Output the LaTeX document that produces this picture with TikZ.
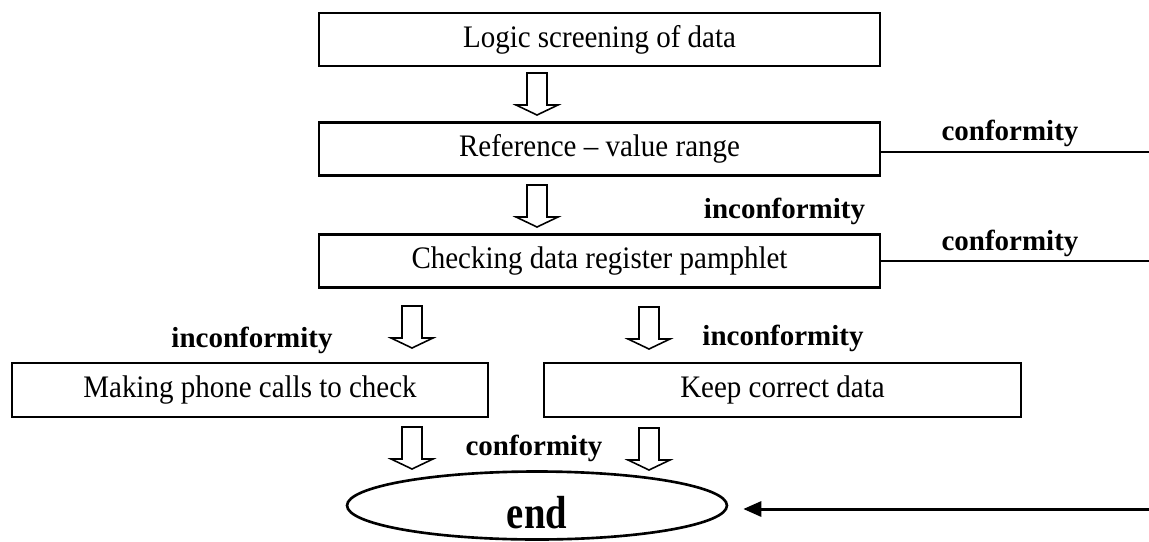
\documentclass[tikz,border=0pt]{standalone}
\usepackage{fontspec}
\setmainfont{Liberation Serif}
\usetikzlibrary{arrows.meta,shapes.geometric}
\begin{document}
\begin{tikzpicture}[x=.02cm,y=-.02cm,
 stepbox/.style={draw,line width=1.6pt,minimum height=1.06cm,inner sep=0pt,font=\fontsize{16.5}{20}\selectfont},
 lab/.style={anchor=base,inner sep=0pt,font=\fontsize{16.5}{20}\selectfont\bfseries},
 hollow/.style={draw,line width=.9pt,line join=miter},
 conn/.style={line width=1.7pt}]
 \useasboundingbox (0,0) rectangle (1149,541);
 \node[stepbox,minimum width=11.22cm] (b1) at (599.5,39.5) {\scalebox{1}[1.08]{Logic screening of data}};
 \node[stepbox,minimum width=11.22cm] (b2) at (599.5,149) {\scalebox{1}[1.08]{Reference – value range}};
 \node[stepbox,minimum width=11.22cm] (b3) at (599.5,261) {\scalebox{1}[1.08]{Checking data register pamphlet}};
 \node[stepbox,minimum width=9.52cm,minimum height=1.08cm] (b4) at (250,390) {\scalebox{1}[1.08]{Making phone calls to check}};
 \node[stepbox,minimum width=9.54cm,minimum height=1.08cm] (b5) at (782.5,390) {\scalebox{1}[1.08]{Keep correct data}};
 \node[ellipse,draw,line width=1.5pt,minimum width=7.6cm,minimum height=1.36cm,inner sep=0pt,text height=.9cm,text depth=0pt,font=\fontsize{22}{26}\selectfont\bfseries] (stop) at (537,505.5) {\scalebox{1}[1.2]{end}};
 \foreach \x/\y in {537/73,537/185,412/306,649/307,412/427,649/428}
  \draw[hollow] (\x-10,\y)--(\x+10,\y)--(\x+10,\y+32)--(\x+21,\y+32)--(\x,\y+42)--(\x-21,\y+32)--(\x-10,\y+32)--cycle;
 \coordinate (r2) at (1149,152); \coordinate (r3) at (1149,261); \coordinate (r5) at (1149,509);
 \draw[conn] (b2.east |- r2)--(r2);
 \draw[conn] (b3.east |- r3)--(r3);
 \draw[conn,-{Triangle[length=.36cm,width=.3cm]},shorten >=.3cm] (r5)--(stop.east |- r5);
 \node[lab] (c1) at (1010,140) {conformity};
 \node[lab] (c2) at (1010,250) {conformity};
 \node[lab] (i1) at (784.5,218) {inconformity};
 \node[lab] (i2) at (252,347) {inconformity};
 \node[lab] (i3) at (783,345) {inconformity};
 \node[lab] (c3) at (534,455) {conformity};
\end{tikzpicture}
\end{document}
